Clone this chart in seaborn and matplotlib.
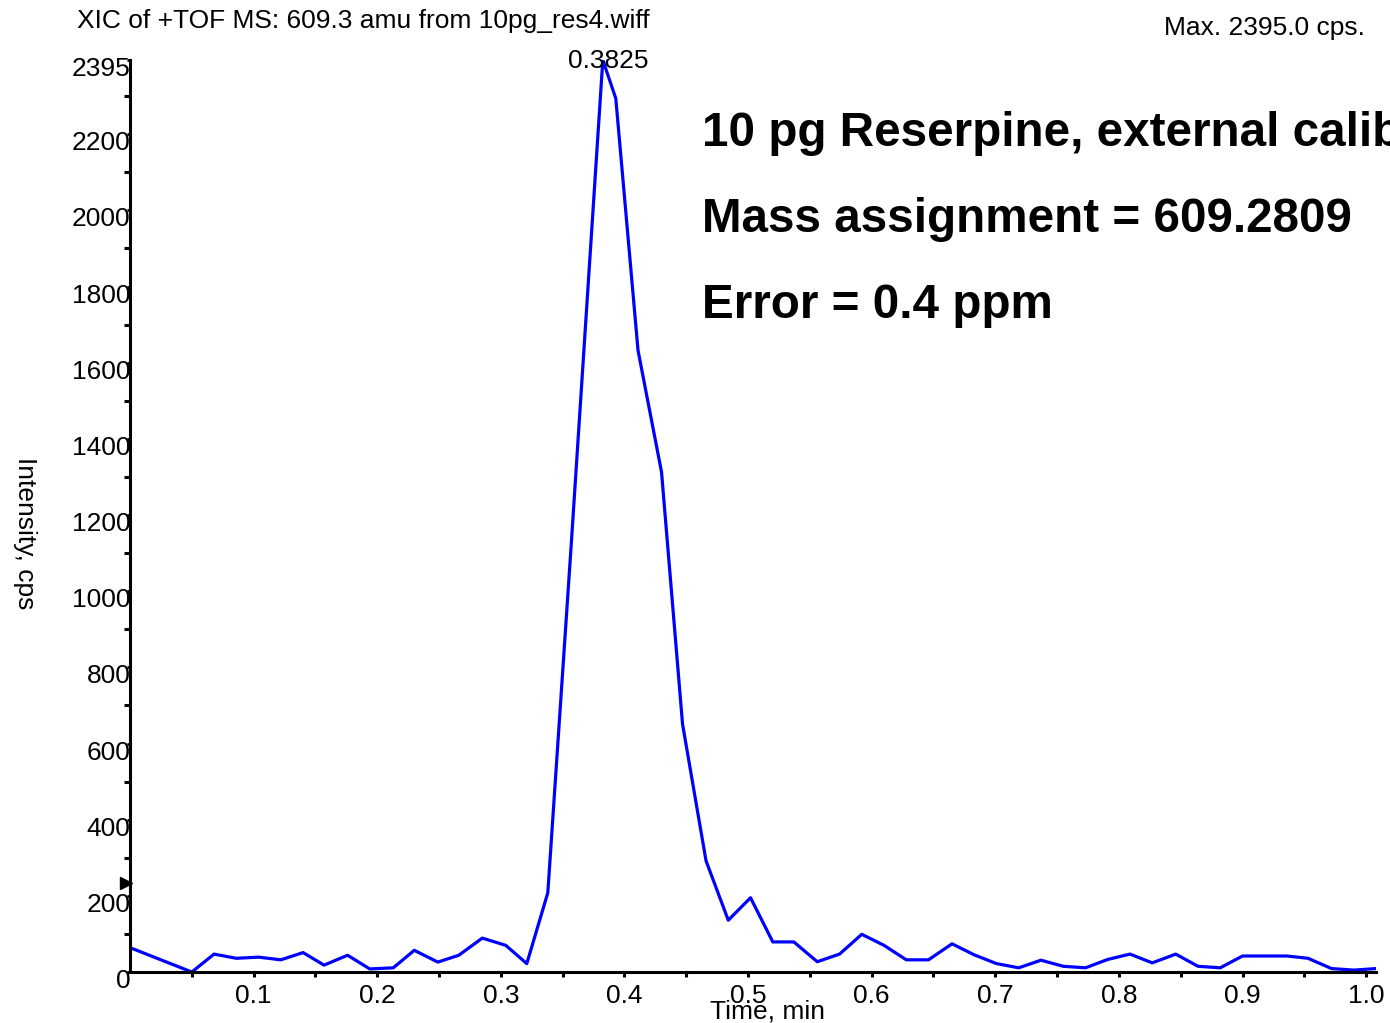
import matplotlib
matplotlib.use("Agg")
import matplotlib.pyplot as plt
import matplotlib.transforms as mtransforms
import numpy as np
import pandas as pd
import seaborn as sns

# Extracted ion chromatogram, m/z 609.3 (reserpine), 10 pg injection
time_min = [0.000, 0.050, 0.068, 0.086, 0.104, 0.122, 0.140, 0.157, 0.176, 0.194,
            0.213, 0.230, 0.249, 0.266, 0.285, 0.304, 0.321, 0.338, 0.357, 0.3825,
            0.393, 0.411, 0.430, 0.447, 0.466, 0.484, 0.502, 0.520, 0.537, 0.556,
            0.574, 0.592, 0.610, 0.628, 0.646, 0.665, 0.683, 0.701, 0.719, 0.737,
            0.755, 0.773, 0.791, 0.809, 0.827, 0.846, 0.864, 0.882, 0.900, 0.918,
            0.936, 0.953, 0.972, 0.990, 1.008]
intensity_cps = [64, 0, 47, 36, 39, 32, 51, 18, 44, 8,
                 11, 57, 26, 44, 89, 70, 22, 208, 1125, 2395,
                 2294, 1632, 1313, 651, 292, 136, 195, 79, 79, 27,
                 47, 99, 70, 32, 32, 74, 45, 22, 11, 31,
                 15, 11, 33, 47, 24, 47, 15, 11, 42, 42,
                 42, 36, 9, 5, 9]

apex_time = 0.3825
max_cps = 2395.0
threshold_cps = 235

y_label_values = [0, 200, 400, 600, 800, 1000, 1200, 1400, 1600, 1800, 2000, 2200, 2395]
x_label_values = [0.1, 0.2, 0.3, 0.4, 0.5, 0.6, 0.7, 0.8, 0.9, 1.0]

title_text = "XIC of +TOF MS: 609.3 amu from 10pg_res4.wiff"
max_text = f"Max. {max_cps:.1f} cps."
notes = ["10 pg Reserpine, external calibration",
         "Mass assignment = 609.2809",
         "Error = 0.4 ppm"]

sns.set_style("ticks")
plt.rcParams["font.family"] = ["Liberation Sans", "DejaVu Sans"]
plt.rcParams["font.size"] = 19
plt.rcParams["text.color"] = "black"
plt.rcParams["axes.labelcolor"] = "black"
plt.rcParams["xtick.color"] = "black"
plt.rcParams["ytick.color"] = "black"

W, H = 1390, 1023
fig = plt.figure(figsize=(W / 100, H / 100), dpi=100)
ax_left, ax_right, ax_bottom, ax_top = 130, 1376, 972, 60
ax = fig.add_axes([ax_left / W, 1 - ax_bottom / H,
                   (ax_right - ax_left) / W, (ax_bottom - ax_top) / H])

df = pd.DataFrame({"Time, min": time_min, "Intensity, cps": intensity_cps})
sns.lineplot(data=df, x="Time, min", y="Intensity, cps", ax=ax,
             color="#0000FF", linewidth=2.3, sort=True)

ax.set_xlim(0, 1.008)
ax.set_ylim(0, max_cps)

for side in ("top", "right"):
    ax.spines[side].set_visible(False)
for side in ("left", "bottom"):
    ax.spines[side].set_linewidth(2.2)
    ax.spines[side].set_color("black")

# y axis: labelled values, unlabelled ticks at the odd hundreds
ax.set_yticks(y_label_values)
ax.set_yticklabels([str(v) for v in y_label_values])
ax.set_yticks(np.arange(100, 2400, 200), minor=True)
ax.tick_params(axis="y", which="major", length=2, width=2, pad=-2.2, labelsize=19,
               labelcolor="black")
ax.tick_params(axis="y", which="minor", length=4, width=2.2, direction="out")
# the intensity labels sit a little below their ticks
label_shift = mtransforms.ScaledTranslation(0, -6.5 / 100, fig.dpi_scale_trans)
for lab in ax.get_yticklabels():
    lab.set_transform(lab.get_transform() + label_shift)

# x axis
ax.set_xticks(x_label_values)
ax.set_xticklabels([f"{v:.1f}" for v in x_label_values])
ax.set_xticks(np.arange(0.05, 1.0, 0.1), minor=True)
ax.tick_params(axis="x", which="major", length=3.5, width=2.2, pad=5, labelsize=19,
               direction="out", labelcolor="black")
ax.tick_params(axis="x", which="minor", length=3.5, width=2.2, direction="out")

ax.set_xlabel("Time, min", fontsize=19, color="black")
ax.xaxis.set_label_coords((768 - ax_left) / (ax_right - ax_left), -0.030)
ax.set_ylabel("")

# threshold marker on the intensity axis
trans = mtransforms.blended_transform_factory(ax.transAxes, ax.transData)
ax.plot([-0.0035], [threshold_cps], marker=">", color="black", markersize=8,
        transform=trans, clip_on=False, linestyle="none")

# apex annotation
ax.annotate(f"{apex_time:.4f}", xy=(apex_time, max_cps), xytext=(4, -6),
            textcoords="offset points", ha="center", va="baseline", fontsize=19,
            color="black", annotation_clip=False)

fig.text(25 / W, 1 - 533 / H, "Intensity, cps", rotation=-90, ha="center",
         va="center", fontsize=19, color="black")
fig.text(77 / W, 1 - 28 / H, title_text, ha="left", va="baseline", fontsize=19,
         color="black")
fig.text(1365 / W, 1 - 35 / H, max_text, ha="right", va="baseline", fontsize=19,
         color="black")

for i, line in enumerate(notes):
    fig.text(702 / W, 1 - (146 + 86 * i) / H, line, ha="left", va="baseline",
             fontsize=34.3, fontweight="bold", color="black")

fig.savefig("out.png", dpi=100, facecolor="white")
